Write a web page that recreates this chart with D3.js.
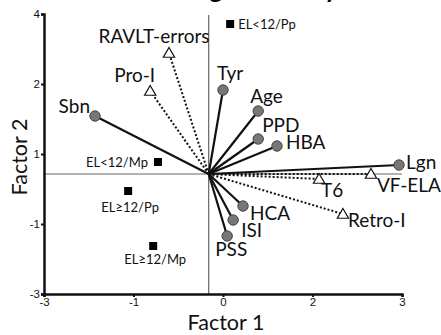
<!DOCTYPE html>
<html><head><meta charset="utf-8">
<script src="https://cdn.jsdelivr.net/npm/d3@7"></script>
<style>body{margin:0;background:#fff;} svg{display:block;}</style>
</head><body>
<script>
// Variable vectors (solid, grey circles)
const varNames = ["Tyr","Age","PPD","HBA","Lgn","HCA","ISI","PSS","Sbn"];
const varX = [0.0, 0.59, 0.59, 0.905, 2.95, 0.335, 0.17, 0.07, -2.145];
const varY = [2.1, 1.575, 0.875, 0.7, 0.225, -0.8, -1.15, -1.55, 1.45];
// Cognitive test vectors (dotted, open triangles)
const testNames = ["VF-ELA","T6","Retro-I","Pro-I","RAVLT-errors"];
const testX = [2.48, 1.61, 2.01, -1.22, -0.905];
const testY = [0.0, -0.125, -1.0, 2.075, 3.025];
// Group scores (black squares)
const groupNames = ["EL<12/Pp","EL<12/Mp","EL≥12/Pp","EL≥12/Mp"];
const groupX = [0.12, -1.09, -1.59, -1.17];
const groupY = [3.75, 0.3, -0.425, -1.8];
// origin of vectors / reference lines
const originX = -0.24, originY = 0;
// axis ticks
const xTickVals = [-3, -1.5, 0, 1.5, 3];
const xTickLabels = ["-3","-1","0","2","3"];
const yTickVals = [-3, -1.25, 0.5, 2.25, 4];
const yTickLabels = ["-3","-1","1","2","4"];

const W = 441, H = 335;
const svg = d3.select("body").append("svg").attr("width", W).attr("height", H);
const font = "Lato, 'Open Sans', sans-serif";

const x = d3.scaleLinear().domain([-3, 3]).range([44, 402]);
const y = d3.scaleLinear().domain([-3, 4]).range([294, 14]);

// cropped title (only its descenders show at the top edge)
svg.append("text").attr("x", 338).attr("y", -2).attr("text-anchor", "end")
  .attr("font-family", font).attr("font-weight", "bold").attr("font-size", 26)
  .text("Factor Loading Summary");

// reference lines
svg.append("line").attr("x1", x(-3)).attr("x2", x(3)).attr("y1", y(originY)).attr("y2", y(originY))
  .attr("stroke", "#666").attr("stroke-width", 1.2);
svg.append("line").attr("x1", x(originX)).attr("x2", x(originX)).attr("y1", y(-3)).attr("y2", 15)
  .attr("stroke", "#666").attr("stroke-width", 1.2);

// axes
const xAxis = svg.append("g").attr("transform", `translate(0,${y(-3)})`)
  .call(d3.axisBottom(x).tickValues(xTickVals).tickFormat((d, i) => xTickLabels[i]).tickSize(3).tickPadding(1));
const yAxis = svg.append("g").attr("transform", `translate(${x(-3)},0)`)
  .call(d3.axisLeft(y).tickValues(yTickVals).tickFormat((d, i) => yTickLabels[i]).tickSize(3).tickPadding(1));
[xAxis, yAxis].forEach(a => {
  a.select(".domain").attr("stroke", "#111").attr("stroke-width", 2.5);
  a.selectAll(".tick line").attr("stroke", "#111").attr("stroke-width", 2);
  a.selectAll(".tick text").attr("font-family", "Arial, 'Liberation Sans', sans-serif")
    .attr("font-size", 11.5).attr("fill", "#111");
});

// axis titles
svg.append("text").attr("x", 226).attr("y", 330).attr("text-anchor", "middle")
  .attr("font-family", font).attr("font-size", 21.5).attr("fill", "#111").text("Factor 1");
svg.append("text").attr("transform", "translate(27,157) rotate(-90)").attr("text-anchor", "middle")
  .attr("font-family", font).attr("font-size", 21.5).attr("fill", "#111").text("Factor 2");

const vars = varNames.map((n, i) => ({n, x: varX[i], y: varY[i]}));
const tests = testNames.map((n, i) => ({n, x: testX[i], y: testY[i]}));
const groups = groupNames.map((n, i) => ({n, x: groupX[i], y: groupY[i]}));

// dotted vectors
svg.selectAll(".tl").data(tests).enter().append("line")
  .attr("x1", x(originX)).attr("y1", y(originY)).attr("x2", d => x(d.x)).attr("y2", d => y(d.y))
  .attr("stroke", "#111").attr("stroke-width", 2).attr("stroke-dasharray", "2,2");
// solid vectors
svg.selectAll(".vl").data(vars).enter().append("line")
  .attr("x1", x(originX)).attr("y1", y(originY)).attr("x2", d => x(d.x)).attr("y2", d => y(d.y))
  .attr("stroke", "#111").attr("stroke-width", 2.2);

// circles
svg.selectAll(".vc").data(vars).enter().append("circle")
  .attr("cx", d => x(d.x)).attr("cy", d => y(d.y)).attr("r", 5.2)
  .attr("fill", "#777").attr("stroke", "#444").attr("stroke-width", 1);
// triangles
const tri = d3.symbol().type(d3.symbolTriangle).size(55);
svg.selectAll(".tt").data(tests).enter().append("path")
  .attr("d", tri).attr("transform", d => `translate(${x(d.x)},${y(d.y) + 1})`)
  .attr("fill", "#fff").attr("stroke", "#111").attr("stroke-width", 1.2);
// squares
svg.selectAll(".gs").data(groups).enter().append("rect")
  .attr("x", d => x(d.x) - 4).attr("y", d => y(d.y) - 4).attr("width", 8).attr("height", 8)
  .attr("fill", "#000");

// labels
const labelPos = {
  "Tyr": [-6, -10, "start"], "Age": [-8, -8, "start"], "PPD": [4, -7, "start"], "HBA": [9, 3, "start"],
  "Lgn": [7, 4, "start"], "HCA": [7, 14, "start"], "ISI": [8, 17, "start"], "PSS": [-12, 20, "start"],
  "Sbn": [-5, -3, "end"],
  "VF-ELA": [6, 18, "start"], "T6": [2, 18, "start"], "Retro-I": [5, 13, "start"],
  "Pro-I": [5, -9, "end"], "RAVLT-errors": [-15, -10, "middle"]
};
svg.selectAll(".lb").data(vars.concat(tests)).enter().append("text")
  .attr("x", d => x(d.x) + labelPos[d.n][0]).attr("y", d => y(d.y) + labelPos[d.n][1])
  .attr("text-anchor", d => labelPos[d.n][2])
  .attr("font-family", font).attr("font-size", 19).attr("fill", "#111").text(d => d.n);

const gPos = {
  "EL<12/Pp": [8, 5, "start"], "EL<12/Mp": [-10, 5, "end"],
  "EL≥12/Pp": [2, 21, "middle"], "EL≥12/Mp": [2, 18, "middle"]
};
svg.selectAll(".gl").data(groups).enter().append("text")
  .attr("x", d => x(d.x) + gPos[d.n][0]).attr("y", d => y(d.y) + gPos[d.n][1])
  .attr("text-anchor", d => gPos[d.n][2])
  .attr("font-family", font).attr("font-size", 13).attr("fill", "#111").text(d => d.n);
</script>
</body></html>
